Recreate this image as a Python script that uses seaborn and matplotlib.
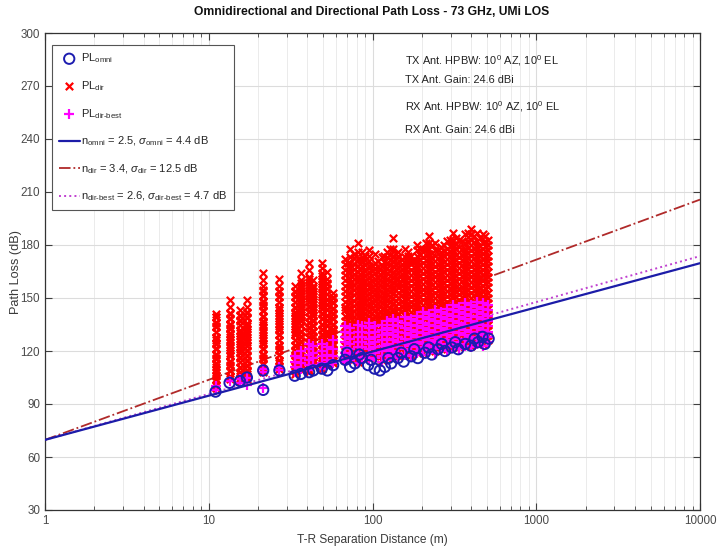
import matplotlib
matplotlib.use('Agg')
import matplotlib.pyplot as plt
from matplotlib.ticker import FixedLocator, NullFormatter
import seaborn as sns
import pandas as pd

# ---------------- data ----------------
iso_d = [11.0, 13.4, 15.5, 17.1, 21.5, 27.0, 33.5, 36.5, 41.0, 43.5, 49.0, 53.0, 57.5]
iso_dir = [
    [99, 101, 104, 106, 108, 111, 113, 116, 118, 121, 124, 126, 128, 131, 134, 136, 139, 141],
    [104, 106, 109, 112, 114, 117, 119, 122, 125, 128, 130, 133, 135, 138, 141, 145, 149],
    [103, 106, 108, 111, 114, 116, 119, 121, 124, 127, 130, 132, 135, 137, 140, 143],
    [104, 107, 109, 112, 115, 117, 120, 123, 125, 128, 131, 134, 136, 139, 142, 145, 149],
    [108, 110, 113, 116, 118, 121, 124, 126, 129, 132, 135, 137, 140, 143, 146, 148, 151, 154, 157, 160, 164],
    [110, 113, 115, 118, 121, 123, 126, 129, 132, 134, 137, 140, 143, 145, 148, 151, 154, 157, 161],
    [107, 110, 112, 115, 118, 120, 123, 126, 129, 131, 134, 137, 140, 142, 145, 148, 151, 154, 157],
    [109, 112, 115, 117, 120, 123, 125, 128, 131, 134, 137, 139, 142, 145, 148, 151, 154, 157, 160, 164],
    [108, 111, 114, 116, 119, 122, 125, 128, 131, 133, 136, 139, 142, 145, 148, 150, 153, 156, 159, 162, 166, 170],
    [112, 114, 117, 120, 123, 125, 128, 131, 134, 137, 140, 142, 145, 148, 151, 154, 157, 160],
    [110, 113, 116, 118, 121, 124, 127, 129, 132, 135, 138, 141, 144, 146, 149, 152, 155, 158, 161, 164, 167, 170],
    [112, 115, 118, 120, 123, 126, 129, 131, 134, 137, 140, 143, 146, 149, 152, 155, 158, 161, 165],
    [113, 116, 119, 121, 124, 127, 130, 132, 135, 138, 141, 144, 147, 150, 153],
]
# more directional samples at the same isolated locations
iso_dir2 = [
    [100.5, 103.5, 106.5, 109.5, 112.5, 115.5, 118.5, 121.5, 124.5, 127.5, 130.5, 133.5, 136.5, 139.5],
    [105.5, 108.5, 111.5, 114.5, 117.5, 120.5, 123.5, 126.5, 129.5, 132.5, 135.5, 138.5, 141.5],
    [104.5, 107.5, 110.5, 113.5, 116.5, 119.5, 122.5, 125.5, 128.5, 131.5, 134.5, 137.5, 140.5],
    [105.5, 108.5, 111.5, 114.5, 117.5, 120.5, 123.5, 126.5, 129.5, 132.5, 135.5, 138.5, 141.5],
    [109.5, 112.5, 115.5, 118.5, 121.5, 124.5, 127.5, 130.5, 133.5, 136.5, 139.5, 142.5, 145.5, 148.5, 151.5, 154.5],
    [111.5, 114.5, 117.5, 120.5, 123.5, 126.5, 129.5, 132.5, 135.5, 138.5, 141.5, 144.5, 147.5, 150.5, 153.5],
    [108.5, 111.5, 114.5, 117.5, 120.5, 123.5, 126.5, 129.5, 132.5, 135.5, 138.5, 141.5, 144.5, 147.5, 150.5, 153.5],
    [110.5, 113.5, 116.5, 119.5, 122.5, 125.5, 128.5, 131.5, 134.5, 137.5, 140.5, 143.5, 146.5, 149.5, 152.5, 155.5, 158.5],
    [109.5, 112.5, 115.5, 118.5, 121.5, 124.5, 127.5, 130.5, 133.5, 136.5, 139.5, 142.5, 145.5, 148.5, 151.5, 154.5, 157.5, 160.5],
    [113.5, 116.5, 119.5, 122.5, 125.5, 128.5, 131.5, 134.5, 137.5, 140.5, 143.5, 146.5, 149.5, 152.5, 155.5],
    [111.5, 114.5, 117.5, 120.5, 123.5, 126.5, 129.5, 132.5, 135.5, 138.5, 141.5, 144.5, 147.5, 150.5, 153.5, 156.5, 159.5, 162.5],
    [113.5, 116.5, 119.5, 122.5, 125.5, 128.5, 131.5, 134.5, 137.5, 140.5, 143.5, 146.5, 149.5, 152.5, 155.5, 158.5],
    [114.5, 117.5, 120.5, 123.5, 126.5, 129.5, 132.5, 135.5, 138.5, 141.5, 144.5, 147.5, 150.5],
]
iso_best = [
    [98, 100], [103], [102, 104], [101, 105], [99, 108, 110], [109, 111],
    [108, 111, 114, 117], [110, 113, 116, 120], [109, 112, 115, 118, 121, 124],
    [112, 116, 119, 123], [110, 113, 117, 120, 124], [112, 115, 118, 122], [113, 117, 121, 126],
]

dense_d = [68, 73, 81, 86, 95, 103, 114, 122, 134, 144, 159, 171, 188, 202, 222,
           240, 263, 284, 311, 336, 368, 398, 436, 472, 505]
dense_dir = [
    [115, 118, 120, 123, 126, 129, 131, 134, 137, 140, 143, 145, 148, 151, 154, 157, 160, 163, 166, 169, 172],
    [116, 119, 122, 124, 127, 130, 133, 136, 139, 141, 144, 147, 150, 153, 156, 158, 161, 164, 167, 170, 173, 178],
    [114, 117, 120, 123, 125, 128, 131, 134, 137, 140, 142, 145, 148, 151, 154, 157, 160, 162, 165, 168, 172, 176, 181],
    [117, 120, 122, 125, 128, 131, 134, 137, 139, 142, 145, 148, 151, 154, 157, 159, 162, 165, 168, 171, 176],
    [116, 119, 122, 125, 127, 130, 133, 136, 139, 142, 145, 147, 150, 153, 156, 159, 162, 165, 168, 171, 174, 177],
    [117, 120, 123, 126, 129, 131, 134, 137, 140, 143, 146, 149, 152, 155, 158, 161, 164, 167, 170, 175],
    [115, 118, 121, 124, 127, 130, 133, 135, 138, 141, 144, 147, 150, 153, 156, 159, 162, 165, 168, 173],
    [116, 119, 122, 125, 128, 131, 134, 137, 140, 143, 146, 149, 152, 155, 158, 161, 164, 167, 170, 173, 176],
    [118, 121, 124, 127, 130, 133, 136, 139, 142, 144, 147, 150, 153, 156, 159, 162, 165, 168, 171, 174, 178, 184],
    [117, 120, 123, 126, 129, 132, 135, 138, 141, 144, 147, 150, 153, 156, 158, 161, 164, 167, 170, 173, 176],
    [119, 122, 125, 128, 131, 134, 137, 140, 143, 146, 149, 152, 155, 158, 161, 164, 167, 170, 173, 178],
    [118, 121, 124, 127, 130, 133, 136, 139, 142, 145, 148, 151, 154, 157, 160, 163, 166, 169, 171, 174],
    [120, 123, 126, 129, 132, 135, 138, 141, 144, 147, 150, 153, 156, 159, 162, 165, 168, 171, 174, 177, 180],
    [119, 122, 125, 128, 131, 134, 137, 140, 143, 146, 149, 152, 155, 158, 161, 164, 167, 170, 173, 178],
    [121, 124, 127, 130, 133, 136, 139, 142, 145, 148, 151, 154, 157, 160, 163, 166, 169, 172, 175, 178, 181, 185],
    [120, 123, 126, 129, 132, 135, 138, 141, 144, 147, 150, 153, 156, 159, 162, 165, 168, 171, 174, 177, 181],
    [122, 125, 128, 131, 134, 137, 140, 143, 146, 149, 152, 155, 158, 161, 164, 167, 170, 173, 176, 179],
    [121, 124, 127, 130, 133, 136, 139, 142, 145, 148, 151, 154, 157, 160, 163, 166, 169, 172, 175, 178, 182],
    [123, 126, 129, 132, 135, 138, 141, 144, 147, 150, 153, 156, 159, 162, 165, 168, 171, 174, 177, 180, 183, 187],
    [122, 125, 128, 131, 134, 137, 140, 143, 146, 149, 152, 155, 158, 161, 164, 167, 170, 173, 176, 179, 183],
    [124, 127, 130, 133, 136, 139, 142, 145, 148, 151, 154, 157, 160, 163, 166, 169, 172, 175, 178, 181, 186],
    [123, 126, 129, 132, 135, 138, 141, 144, 147, 150, 153, 156, 159, 162, 165, 168, 171, 174, 177, 180, 183, 186, 189],
    [125, 128, 131, 134, 137, 140, 143, 146, 149, 152, 155, 158, 161, 164, 167, 170, 173, 176, 179, 182, 187],
    [124, 127, 130, 133, 136, 139, 142, 145, 148, 151, 154, 157, 160, 163, 166, 169, 172, 175, 178, 181, 186],
    [126, 129, 132, 135, 138, 141, 144, 147, 150, 153, 156, 159, 162, 165, 168, 171, 174, 177, 180, 183],
]
# further receiver locations lying between the columns above
mid_d = [70.5, 77, 83.5, 90.5, 99, 108.5, 118, 128, 139, 151.5, 165, 179.5, 195, 212, 231,
         251.5, 273.5, 297.5, 323.5, 352, 383, 417, 454, 488]
mid_dir = [
    [116.5, 119.5, 122.5, 125.5, 128.5, 131.5, 134.5, 137.5, 140.5, 143.5, 146.5, 149.5, 152.5, 155.5, 158.5, 161.5, 164.5, 167.5, 170],
    [115.5, 118.5, 121.5, 124.5, 127.5, 130.5, 133.5, 136.5, 139.5, 142.5, 145.5, 148.5, 151.5, 154.5, 157.5, 160.5, 163.5, 166.5, 169.5, 172.5, 175],
    [115.5, 118.5, 121.5, 124.5, 127.5, 130.5, 133.5, 136.5, 139.5, 142.5, 145.5, 148.5, 151.5, 154.5, 157.5, 160.5, 163.5, 166.5, 169.5, 172],
    [117.5, 120.5, 123.5, 126.5, 129.5, 132.5, 135.5, 138.5, 141.5, 144.5, 147.5, 150.5, 153.5, 156.5, 159.5, 162.5, 165.5, 168.5, 171.5, 174],
    [117.5, 120.5, 123.5, 126.5, 129.5, 132.5, 135.5, 138.5, 141.5, 144.5, 147.5, 150.5, 153.5, 156.5, 159.5, 162.5, 165.5, 168],
    [116.5, 119.5, 122.5, 125.5, 128.5, 131.5, 134.5, 137.5, 140.5, 143.5, 146.5, 149.5, 152.5, 155.5, 158.5, 161.5, 164.5, 167.5, 171],
    [116.5, 119.5, 122.5, 125.5, 128.5, 131.5, 134.5, 137.5, 140.5, 143.5, 146.5, 149.5, 152.5, 155.5, 158.5, 161.5, 164.5, 167.5, 170.5, 174],
    [117.5, 120.5, 123.5, 126.5, 129.5, 132.5, 135.5, 138.5, 141.5, 144.5, 147.5, 150.5, 153.5, 156.5, 159.5, 162.5, 165.5, 168.5, 171.5, 174.5, 178],
    [118.5, 121.5, 124.5, 127.5, 130.5, 133.5, 136.5, 139.5, 142.5, 145.5, 148.5, 151.5, 154.5, 157.5, 160.5, 163.5, 166.5, 169.5, 172.5, 175],
    [118.5, 121.5, 124.5, 127.5, 130.5, 133.5, 136.5, 139.5, 142.5, 145.5, 148.5, 151.5, 154.5, 157.5, 160.5, 163.5, 166.5, 169.5, 172],
    [119.5, 122.5, 125.5, 128.5, 131.5, 134.5, 137.5, 140.5, 143.5, 146.5, 149.5, 152.5, 155.5, 158.5, 161.5, 164.5, 167.5, 170.5, 173.5, 176],
    [119.5, 122.5, 125.5, 128.5, 131.5, 134.5, 137.5, 140.5, 143.5, 146.5, 149.5, 152.5, 155.5, 158.5, 161.5, 164.5, 167.5, 171],
    [120.5, 123.5, 126.5, 129.5, 132.5, 135.5, 138.5, 141.5, 144.5, 147.5, 150.5, 153.5, 156.5, 159.5, 162.5, 165.5, 168.5, 171.5, 174.5, 178],
    [120.5, 123.5, 126.5, 129.5, 132.5, 135.5, 138.5, 141.5, 144.5, 147.5, 150.5, 153.5, 156.5, 159.5, 162.5, 165.5, 168.5, 171.5, 174.5, 177.5, 181],
    [121.5, 124.5, 127.5, 130.5, 133.5, 136.5, 139.5, 142.5, 145.5, 148.5, 151.5, 154.5, 157.5, 160.5, 163.5, 166.5, 169.5, 172.5, 175.5, 180],
    [121.5, 124.5, 127.5, 130.5, 133.5, 136.5, 139.5, 142.5, 145.5, 148.5, 151.5, 154.5, 157.5, 160.5, 163.5, 166.5, 169.5, 172.5, 177],
    [122.5, 125.5, 128.5, 131.5, 134.5, 137.5, 140.5, 143.5, 146.5, 149.5, 152.5, 155.5, 158.5, 161.5, 164.5, 167.5, 170.5, 173.5, 176.5, 180],
    [122.5, 125.5, 128.5, 131.5, 134.5, 137.5, 140.5, 143.5, 146.5, 149.5, 152.5, 155.5, 158.5, 161.5, 164.5, 167.5, 170.5, 173.5, 176.5, 179.5, 183],
    [123.5, 126.5, 129.5, 132.5, 135.5, 138.5, 141.5, 144.5, 147.5, 150.5, 153.5, 156.5, 159.5, 162.5, 165.5, 168.5, 171.5, 174.5, 177.5, 180.5, 184],
    [123.5, 126.5, 129.5, 132.5, 135.5, 138.5, 141.5, 144.5, 147.5, 150.5, 153.5, 156.5, 159.5, 162.5, 165.5, 168.5, 171.5, 174.5, 177.5, 182],
    [124.5, 127.5, 130.5, 133.5, 136.5, 139.5, 142.5, 145.5, 148.5, 151.5, 154.5, 157.5, 160.5, 163.5, 166.5, 169.5, 172.5, 175.5, 178.5, 181.5, 184.5, 187],
    [124.5, 127.5, 130.5, 133.5, 136.5, 139.5, 142.5, 145.5, 148.5, 151.5, 154.5, 157.5, 160.5, 163.5, 166.5, 169.5, 172.5, 175.5, 178.5, 181.5, 185],
    [125.5, 128.5, 131.5, 134.5, 137.5, 140.5, 143.5, 146.5, 149.5, 152.5, 155.5, 158.5, 161.5, 164.5, 167.5, 170.5, 173.5, 176.5, 179.5, 184],
    [125.5, 128.5, 131.5, 134.5, 137.5, 140.5, 143.5, 146.5, 149.5, 152.5, 155.5, 158.5, 161.5, 164.5, 167.5, 170.5, 173.5, 176.5, 179.5, 182.5, 185],
]
dense_best = [
    [114, 116, 119, 122, 125, 128, 131, 134], [115, 118, 121, 124, 127, 130, 133],
    [113, 116, 119, 122, 125, 128, 131, 135], [116, 119, 122, 125, 128, 131, 134],
    [115, 118, 121, 124, 127, 130, 133, 136], [116, 119, 122, 125, 128, 131, 134],
    [114, 117, 120, 123, 126, 129, 132, 135], [115, 118, 121, 124, 127, 130, 133, 137],
    [117, 120, 123, 126, 129, 132, 135, 138], [116, 119, 122, 125, 128, 131, 134, 137],
    [118, 121, 124, 127, 130, 133, 136, 139], [117, 120, 123, 126, 129, 132, 135, 138],
    [119, 122, 125, 128, 131, 134, 137, 140], [118, 121, 124, 127, 130, 133, 136, 139, 142],
    [120, 123, 126, 129, 132, 135, 138, 141], [119, 122, 125, 128, 131, 134, 137, 140, 143],
    [121, 124, 127, 130, 133, 136, 139, 142], [120, 123, 126, 129, 132, 135, 138, 141, 144],
    [122, 125, 128, 131, 134, 137, 140, 143, 146], [121, 124, 127, 130, 133, 136, 139, 142, 145],
    [123, 126, 129, 132, 135, 138, 141, 144, 147], [122, 125, 128, 131, 134, 137, 140, 143, 146],
    [124, 127, 130, 133, 136, 139, 142, 145, 148], [123, 126, 129, 132, 135, 138, 141, 144, 147],
    [125, 128, 131, 134, 137, 140, 143, 146],
]

omni_d = [11.0, 13.4, 15.5, 17.1, 21.5, 21.5, 27.0, 33.5, 36.5, 41.0, 43.5, 49.0, 53.0, 57.5,
          68, 73, 78, 86, 94, 103, 111, 119, 130, 143, 155, 172, 189, 209, 230, 251,
          277, 305, 334, 368, 399, 441, 485, 512,
          70, 83, 98, 125, 150, 180, 220, 265, 320, 420, 470]
omni_pl = [97, 102, 103, 105, 98, 109, 109, 106, 107, 108, 109, 110, 109, 112,
           115, 111, 113, 116, 112, 110, 109, 111, 113, 116, 114, 117, 116, 119, 118, 121,
           120, 122, 121, 124, 123, 125, 124, 127,
           119, 118, 115, 116, 119, 121, 122, 124, 125, 127, 128]

# fitted close-in free-space reference path-loss models
fspl_1m = 69.7
fit_d = [1, 10000]
n_omni, n_dir, n_best = 2.5, 3.4, 2.6
x_ticks = [1, 10, 100, 1000, 10000]
x_tick_labels = ['1', '10', '100', '1000', '10000']
y_ticks = [30, 60, 90, 120, 150, 180, 210, 240, 270, 300]

# ---------------- styling ----------------
FONT = 'Liberation Sans'
sns.set_theme(style='white')
plt.rcParams['font.family'] = [FONT, 'DejaVu Sans']
plt.rcParams['mathtext.fontset'] = 'custom'
plt.rcParams['mathtext.rm'] = FONT
plt.rcParams['mathtext.it'] = FONT + ':italic'
plt.rcParams['mathtext.bf'] = FONT + ':bold'


def to_df(ds, lists):
    rows = [(d, v) for d, vals in zip(ds, lists) for v in vals]
    return pd.DataFrame(rows, columns=['d', 'pl'])


dir_df = to_df(iso_d + iso_d + dense_d + mid_d, iso_dir + iso_dir2 + dense_dir + mid_dir)
best_df = to_df(iso_d + dense_d, iso_best + dense_best)
omni_df = pd.DataFrame({'d': omni_d, 'pl': omni_pl})
fit_df = pd.DataFrame({
    'd': fit_d,
    'omni': [fspl_1m + 10 * n_omni * k for k in (0, 4)],
    'dir': [fspl_1m + 10 * n_dir * k for k in (0, 4)],
    'best': [fspl_1m + 10 * n_best * k for k in (0, 4)],
})

fig = plt.figure(figsize=(7.17, 5.58), dpi=100)
ax = fig.add_axes([45 / 717, 48 / 558, 655 / 717, 477 / 558])

lab_omni = r'PL$_{\mathrm{omni}}$'
lab_dir = r'PL$_{\mathrm{dir}}$'
lab_best = r'PL$_{\mathrm{dir\text{-}best}}$'
lab_fomni = r'n$_{\mathrm{omni}}$ = 2.5, $\sigma_{\mathrm{omni}}$ = 4.4 dB'
lab_fdir = r'n$_{\mathrm{dir}}$ = 3.4, $\sigma_{\mathrm{dir}}$ = 12.5 dB'
lab_fbest = r'n$_{\mathrm{dir\text{-}best}}$ = 2.6, $\sigma_{\mathrm{dir\text{-}best}}$ = 4.7 dB'

sns.lineplot(data=fit_df, x='d', y='dir', color='#b02a2a', linewidth=1.3, linestyle='-.',
             ax=ax, label=lab_fdir, zorder=2)
sns.lineplot(data=fit_df, x='d', y='best', color='#c040d0', linewidth=1.4, linestyle=':',
             ax=ax, label=lab_fbest, zorder=2)

sns.scatterplot(data=dir_df, x='d', y='pl', marker='x', color='#ff0000', s=28,
                linewidth=1.6, ax=ax, label=lab_dir, zorder=3)
sns.scatterplot(data=best_df, x='d', y='pl', marker='+', color='#ff00ff', s=48,
                linewidth=1.6, ax=ax, label=lab_best, zorder=4)
sns.lineplot(data=fit_df, x='d', y='omni', color='#1c1ca8', linewidth=1.6, ax=ax,
             label=lab_fomni, zorder=5)
sns.scatterplot(data=omni_df, x='d', y='pl', marker='o', s=55, facecolor='none',
                edgecolor='#1c1cb0', linewidth=1.4, ax=ax, label=lab_omni, zorder=6)

ax.set_xscale('log')
ax.set_xlim(1, 10000)
ax.set_ylim(30, 300)
ax.xaxis.set_major_locator(FixedLocator(x_ticks))
ax.set_xticklabels(x_tick_labels)
ax.xaxis.set_minor_formatter(NullFormatter())
ax.set_yticks(y_ticks)

ax.grid(which='major', color='#dcdcdc', linewidth=0.8)
ax.grid(which='minor', axis='x', color='#e8e8e8', linewidth=0.6)
ax.set_axisbelow(True)
ax.tick_params(which='both', direction='in', top=True, right=True, bottom=True, left=True,
               labelsize=8.4, labelcolor='#4a4a4a', color='#404040')
ax.tick_params(which='major', length=5, width=0.8, pad=3.5)
ax.tick_params(which='minor', length=3, width=0.6)
for sp in ax.spines.values():
    sp.set_color('#333333')
    sp.set_linewidth(0.9)

ax.set_xlabel('T-R Separation Distance (m)', fontsize=8.6, color='#3a3a3a', labelpad=5)
ax.set_ylabel('Path Loss (dB)', fontsize=9.2, color='#3a3a3a')
ax.yaxis.set_label_coords(-(45 - 22) / 655, 0.5)
fig.text(372 / 717, 1 - 12 / 558, 'Omnidirectional and Directional Path Loss - 73 GHz, UMi LOS',
         ha='center', va='center', fontsize=8.7, fontweight='bold', color='#111111')

handles, labels = ax.get_legend_handles_labels()
order = [lab_omni, lab_dir, lab_best, lab_fomni, lab_fdir, lab_fbest]
hmap = dict(zip(labels, handles))
leg = ax.legend([hmap[l] for l in order], order, loc='upper left',
                bbox_to_anchor=(7 / 655, 1 - 12 / 477), borderaxespad=0, fontsize=8.0,
                frameon=True, fancybox=False, framealpha=1, edgecolor='#555555',
                handlelength=1.9, handletextpad=0.15, labelspacing=1.25, borderpad=0.6)
leg.get_frame().set_linewidth(0.8)

txt_kw = dict(transform=ax.transAxes, fontsize=7.9, color='#222222', ha='left', va='center')
ax.text(0.55, 0.943, r'TX Ant. HPBW: 10$^{0}$ AZ, 10$^{0}$ EL', **txt_kw)
ax.text(0.55, 0.901, 'TX Ant. Gain: 24.6 dBi', **txt_kw)
ax.text(0.55, 0.845, r'RX Ant. HPBW: 10$^{0}$ AZ, 10$^{0}$ EL', **txt_kw)
ax.text(0.55, 0.797, 'RX Ant. Gain: 24.6 dBi', **txt_kw)

fig.savefig('out.png', dpi=100)
